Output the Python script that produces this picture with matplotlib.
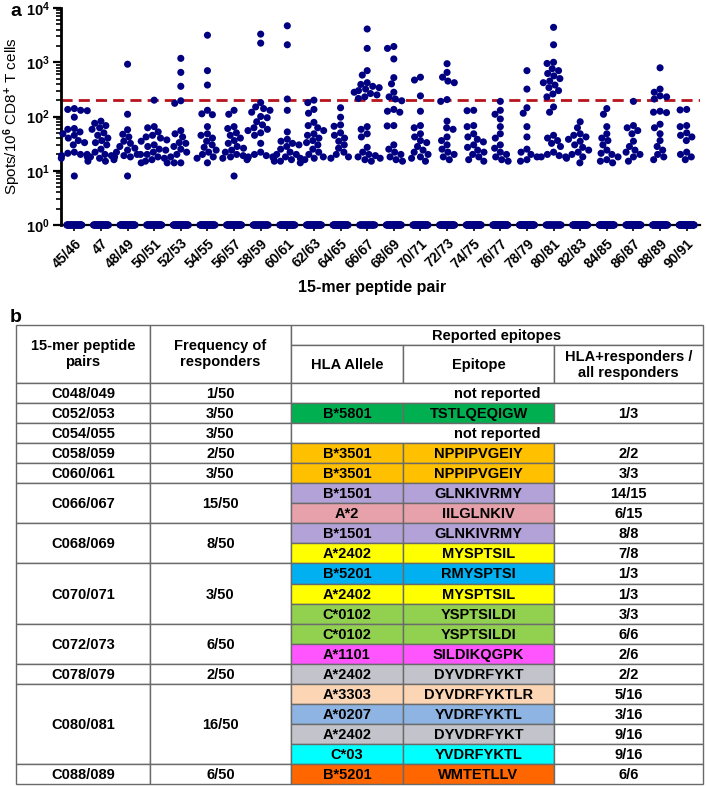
import numpy as np
import matplotlib.pyplot as plt
from matplotlib.patches import Rectangle
from matplotlib.ticker import LogLocator, NullFormatter, FixedLocator
from matplotlib import font_manager

plt.rcParams['font.family'] = ['Liberation Sans', 'DejaVu Sans']
plt.rcParams['font.weight'] = 'bold'
plt.rcParams['mathtext.fontset'] = 'custom'
plt.rcParams['mathtext.rm'] = 'Liberation Sans:bold'
plt.rcParams['mathtext.bf'] = 'Liberation Sans:bold'
plt.rcParams['mathtext.it'] = 'Liberation Sans:bold'

# table font: narrow if available, otherwise regular at a smaller size
try:
    font_manager.findfont('Liberation Sans Narrow', fallback_to_default=False)
    NARROW, fs = ['Liberation Sans Narrow', 'DejaVu Sans'], 12
except ValueError:
    NARROW, fs = ['Liberation Sans', 'DejaVu Sans'], 10.5

# ---- panel a data: spots / 10^6 CD8+ T cells per peptide pair (responses > 1) ----
pair_labels = ['45/46', '47', '48/49', '50/51', '52/53', '54/55', '56/57', '58/59',
               '60/61', '62/63', '64/65', '66/67', '68/69', '70/71', '72/73', '74/75',
               '76/77', '78/79', '80/81', '82/83', '84/85', '86/87', '88/89', '90/91']
n_subjects = 50
threshold = 200

s45 = [140, 135, 130, 128, 97, 60, 58, 52, 48, 45, 40, 36, 33, 30, 22, 21, 20, 20, 19, 18, 17, 8]
s47 = [82, 75, 68, 62, 58, 50, 45, 40, 36, 33, 30, 25, 22, 20, 19, 18, 17, 16, 15, 15]
s48 = [920, 110, 57, 47, 42, 35, 32, 28, 26, 24, 22, 20, 20, 19, 18, 18, 8]
s50 = [200, 65, 62, 52, 45, 42, 40, 37, 35, 30, 28, 25, 24, 22, 20, 18, 17, 16, 15, 14, 14]
s52 = [1180, 650, 360, 195, 175, 55, 48, 42, 33, 32, 28, 25, 22, 20, 18, 14, 14]
s54 = [3150, 700, 380, 130, 112, 108, 65, 48, 45, 40, 35, 30, 27, 24, 22, 20, 18, 17, 14]
s56 = [130, 110, 65, 60, 50, 45, 40, 36, 32, 28, 26, 24, 22, 20, 19, 18, 17, 16, 8]
s58 = [3300, 2250, 180, 150, 140, 130, 120, 100, 95, 80, 70, 62, 58, 55, 50, 45, 32, 22,
       20, 19, 18, 18, 17, 17]
s60 = [4700, 2100, 210, 130, 52, 38, 35, 32, 30, 28, 25, 22, 20, 20, 18, 17, 16, 15, 15, 14]
s62 = [200, 180, 135, 115, 78, 68, 62, 55, 48, 45, 40, 36, 33, 30, 25, 22, 20, 18, 17, 16]
s64 = [145, 97, 70, 66, 50, 45, 40, 35, 30, 26, 22, 20, 18, 17]
s66 = [4100, 1800, 700, 580, 420, 390, 360, 340, 320, 300, 280, 265, 250, 230, 215,
       65, 58, 48, 42, 27, 22, 20, 19, 18, 17, 16, 15]
s68 = [1950, 1800, 1150, 520, 400, 280, 230, 210, 195, 135, 125, 120, 68, 67, 30, 25, 22,
       20, 18, 16, 15]
s70 = [530, 470, 240, 125, 68, 62, 48, 42, 36, 33, 28, 24, 22, 20, 18, 17, 15]
s72 = [940, 650, 530, 450, 420, 205, 190, 82, 62, 58, 42, 36, 30, 25, 22, 20, 18, 16]
s74 = [130, 128, 68, 65, 48, 42, 38, 34, 30, 27, 24, 22, 20, 18, 16, 15]
s76 = [190, 130, 110, 90, 65, 48, 40, 30, 26, 22, 20, 18, 16, 15]
s78 = [700, 320, 145, 115, 65, 42, 25, 22, 20, 18, 16, 15]
s80 = [4400, 2100, 1000, 950, 760, 700, 620, 560, 500, 450, 420, 380, 340, 300, 260, 230,
       150, 120, 45, 40, 36, 32, 28, 22, 20, 19, 18, 18, 17]
s82 = [80, 62, 48, 45, 42, 38, 35, 30, 27, 24, 22, 20, 18, 14]
s84 = [140, 110, 65, 48, 40, 36, 30, 24, 21, 20, 18, 16, 15, 14]
s86 = [190, 68, 62, 55, 48, 35, 28, 24, 22, 20, 18, 15]
s88 = [790, 320, 280, 240, 230, 210, 125, 120, 118, 72, 62, 48, 36, 28, 24, 20, 18, 16]
s90 = [135, 132, 68, 65, 50, 45, 42, 36, 22, 20, 18, 16]

spots = [s45, s47, s48, s50, s52, s54, s56, s58, s60, s62, s64, s66, s68, s70, s72, s74,
         s76, s78, s80, s82, s84, s86, s88, s90]

# ---- panel b data ----
pairs = ['C048/049', 'C052/053', 'C054/055', 'C058/059', 'C060/061', 'C066/067',
         'C068/069', 'C070/071', 'C072/073', 'C078/079', 'C080/081', 'C088/089']
freq = ['1/50', '3/50', '3/50', '2/50', '3/50', '15/50', '8/50', '3/50', '6/50', '2/50',
        '16/50', '6/50']
ep_group = [0, 1, 2, 3, 4, 5, 5, 6, 6, 7, 7, 7, 8, 8, 9, 10, 10, 10, 10, 11]
ep_allele = [None, 'B*5801', None, 'B*3501', 'B*3501', 'B*1501', 'A*2', 'B*1501', 'A*2402',
             'B*5201', 'A*2402', 'C*0102', 'C*0102', 'A*1101', 'A*2402', 'A*3303', 'A*0207',
             'A*2402', 'C*03', 'B*5201']
ep_peptide = [None, 'TSTLQEQIGW', None, 'NPPIPVGEIY', 'NPPIPVGEIY', 'GLNKIVRMY', 'IILGLNKIV',
              'GLNKIVRMY', 'MYSPTSIL', 'RMYSPTSI', 'MYSPTSIL', 'YSPTSILDI', 'YSPTSILDI',
              'SILDIKQGPK', 'DYVDRFYKT', 'DYVDRFYKTLR', 'YVDRFYKTL', 'DYVDRFYKT', 'YVDRFYKTL',
              'WMTETLLV']
ep_ratio = [None, '1/3', None, '2/2', '3/3', '14/15', '6/15', '8/8', '7/8', '1/3', '1/3', '3/3',
            '6/6', '2/6', '2/2', '5/16', '3/16', '9/16', '9/16', '6/6']
ep_color = [None, '#00B050', None, '#FFC000', '#FFC000', '#B3A2D8', '#E6A1AA', '#B3A2D8',
            '#FFFF00', '#00B0F0', '#FFFF00', '#92D050', '#92D050', '#FF55FF', '#C3C3CC',
            '#FCD5B4', '#8DB4E2', '#C3C3CC', '#00FFFF', '#FF6600']


def swarm(vals, d, ppd, max_off):
    # simple beeswarm in pixel space, returns horizontal offsets in pixels
    y = np.log10(np.asarray(vals, float)) * ppd
    xs = np.zeros(len(y))
    px, py = [], []
    for i in np.argsort(-y):
        cands = [0.0]
        for a, b in zip(px, py):
            dy = y[i] - b
            if abs(dy) < d:
                dx = np.sqrt(d * d - dy * dy)
                cands += [a + dx, a - dx]
        cands.sort(key=lambda c: (abs(c), c))
        best = cands[-1]
        for c in cands:
            if all((c - a) ** 2 + (y[i] - b) ** 2 >= d * d - 1e-6 for a, b in zip(px, py)):
                best = c
                break
        best = float(np.clip(best, -max_off, max_off))
        xs[i] = best
        px.append(best)
        py.append(y[i])
    return xs


fig = plt.figure(figsize=(7.06, 7.86), dpi=100)

# ---------------- panel a ----------------
L, R, T, B = 61, 700, 8, 225
ax = fig.add_axes([L / 706, 1 - B / 786, (R - L) / 706, (B - T) / 786])
ncat = len(pair_labels)
cat_px = (R - L) / ncat
ppd = (B - T) / 4.0
dot = 6.6
for i, vals in enumerate(spots):
    off = swarm(vals, dot, ppd, 13) / cat_px
    ax.scatter(i + off, vals, s=26, color='#000080', edgecolors='none', zorder=3, clip_on=False)
    nz = n_subjects - len(vals)
    ax.scatter(i + np.linspace(-7.5, 7.5, nz) / cat_px, np.ones(nz), s=26, color='#000080',
               edgecolors='none', zorder=3, clip_on=False)

ax.axhline(threshold, color='#B8141C', lw=2, dashes=(4, 2.2), zorder=2)
ax.set_yscale('log')
ax.set_ylim(1, 1e4)
ax.set_xlim(-0.5, ncat - 0.5)
ax.yaxis.set_major_locator(FixedLocator([1, 10, 100, 1000, 10000]))
ax.set_yticklabels([r'$10^{0}$', r'$10^{1}$', r'$10^{2}$', r'$10^{3}$', r'$10^{4}$'], fontsize=10.5)
ax.yaxis.set_minor_locator(LogLocator(base=10, subs=np.arange(2, 10)))
ax.yaxis.set_minor_formatter(NullFormatter())
ax.set_xticks(range(ncat))
ax.set_xticklabels(pair_labels, rotation=45, ha='right', rotation_mode='anchor', fontsize=10)
ax.tick_params(axis='y', which='major', length=6, width=1.6, pad=2)
ax.tick_params(axis='y', which='minor', length=3.5, width=1.2)
ax.tick_params(axis='x', length=4, width=1.2, pad=4)
for s in ['top', 'right']:
    ax.spines[s].set_visible(False)
ax.spines['left'].set_linewidth(2)
ax.spines['bottom'].set_linewidth(1.6)
ax.set_ylabel(r'Spots/10$^{6}$ CD8$^{+}$ T cells', fontsize=11, labelpad=2)
fig.text(372 / 706, 1 - 288 / 786, '15-mer peptide pair', fontsize=11.5, ha='center', va='center')
fig.text(10 / 706, 1 - 11 / 786, 'a', fontsize=14, ha='left', va='center')
fig.text(10 / 706, 1 - 317 / 786, 'b', fontsize=14, ha='left', va='center')

# ---------------- panel b (table) ----------------
tax = fig.add_axes([0, 0, 1, 1], zorder=-1)
tax.set_xlim(0, 706)
tax.set_ylim(786, 0)
tax.axis('off')
cols = [16, 150, 291, 403, 554, 703]
top, h1, h2 = 325, 345, 383
rh = (784 - h2) / len(ep_group)
lc = '#6a6a6a'


def cell(x0, x1, y0, y1, fc='white'):
    tax.add_patch(Rectangle((x0, y0), x1 - x0, y1 - y0, facecolor=fc, edgecolor=lc, lw=1))


def txt(x, y, s):
    tax.text(x, y, s, ha='center', va='center', fontsize=fs, family=NARROW, fontweight='bold',
             linespacing=1.15)


# header
cell(cols[0], cols[1], top, h2)
cell(cols[1], cols[2], top, h2)
cell(cols[2], cols[5], top, h1)
for c in range(2, 5):
    cell(cols[c], cols[c + 1], h1, h2)
txt((cols[0] + cols[1]) / 2, 354, '15-mer peptide\npairs')
txt((cols[1] + cols[2]) / 2, 354, 'Frequency of\nresponders')
txt((cols[2] + cols[5]) / 2, (top + h1) / 2 + 1, 'Reported epitopes')
txt((cols[2] + cols[3]) / 2, (h1 + h2) / 2 + 1, 'HLA Allele')
txt((cols[3] + cols[4]) / 2, (h1 + h2) / 2 + 1, 'Epitope')
txt((cols[4] + cols[5]) / 2, (h1 + h2) / 2 + 1, 'HLA+responders /\nall responders')

# body
for g in range(len(pairs)):
    rows = [i for i, v in enumerate(ep_group) if v == g]
    y0 = h2 + rows[0] * rh
    y1 = h2 + (rows[-1] + 1) * rh
    cell(cols[0], cols[1], y0, y1)
    cell(cols[1], cols[2], y0, y1)
    txt((cols[0] + cols[1]) / 2, (y0 + y1) / 2 + 1, pairs[g])
    txt((cols[1] + cols[2]) / 2, (y0 + y1) / 2 + 1, freq[g])

for i in range(len(ep_group)):
    y0 = h2 + i * rh
    y1 = y0 + rh
    yc = (y0 + y1) / 2 + 1
    if ep_allele[i] is None:
        cell(cols[2], cols[5], y0, y1)
        txt((cols[2] + cols[5]) / 2, yc, 'not reported')
        continue
    cell(cols[2], cols[3], y0, y1, ep_color[i])
    cell(cols[3], cols[4], y0, y1, ep_color[i])
    cell(cols[4], cols[5], y0, y1)
    txt((cols[2] + cols[3]) / 2, yc, ep_allele[i])
    txt((cols[3] + cols[4]) / 2, yc, ep_peptide[i])
    txt((cols[4] + cols[5]) / 2, yc, ep_ratio[i])

fig.savefig('out.png', dpi=100)
